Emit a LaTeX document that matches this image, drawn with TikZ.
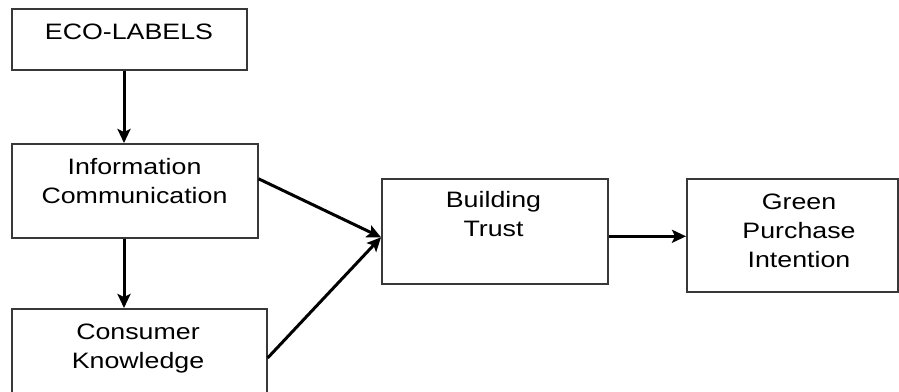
\documentclass[tikz,border=0pt]{standalone}
\usepackage{fontspec}
\setmainfont[FakeStretch=1.2]{Liberation Sans}
\usetikzlibrary{arrows.meta,calc}
\begin{document}
\begin{tikzpicture}[x=1pt,y=-1pt,
  box/.style={draw=black!78, line width=1.6pt, inner sep=0pt, anchor=north west},
  txt/.style={font=\fontsize{22.3}{29}\selectfont, align=center, inner sep=0pt, anchor=base},
  arr/.style={line width=3pt, -{Stealth[length=14pt,width=13pt,inset=3pt]}}]
\useasboundingbox (0,0) rectangle (899,391);
% boxes
\node[box, minimum width=235pt, minimum height=61pt]  (eco)   at (11,8)   {};
\node[box, minimum width=246pt, minimum height=94pt]  (info)  at (11,143) {};
\node[box, minimum width=255pt, minimum height=86pt]  (cons)  at (11,308) {};
\node[box, minimum width=226pt, minimum height=105pt] (trust) at (381,178) {};
\node[box, minimum width=211pt, minimum height=113pt] (green) at (686,178) {};
% texts
\node[txt] (ecot)   at (129,39)    {ECO-LABELS};
\node[txt] (infot)  at (134.5,203) {Information\\Communication};
\node[txt] (const)  at (138,368)   {Consumer\\Knowledge};
\node[txt] (trustt) at (493.5,236) {Building\\Trust};
\node[txt] (greent) at (799,267)   {Green\\Purchase\\Intention};
% connectors
\coordinate (ax) at (124,0);
\draw[arr] (eco.south -| ax) -- (info.north -| ax);
\draw[arr] (info.south -| ax) -- (cons.north -| ax);
\coordinate (tin) at ([yshift=-6pt]trust.west);
\draw[arr] ([yshift=12pt]info.east) -- (tin);
\draw[arr] ([yshift=-50pt]cons.north east) -- (tin);
\draw[arr] ([yshift=-5pt]trust.east) -- ([yshift=-5pt]trust.east -| green.west);
\end{tikzpicture}
\end{document}
